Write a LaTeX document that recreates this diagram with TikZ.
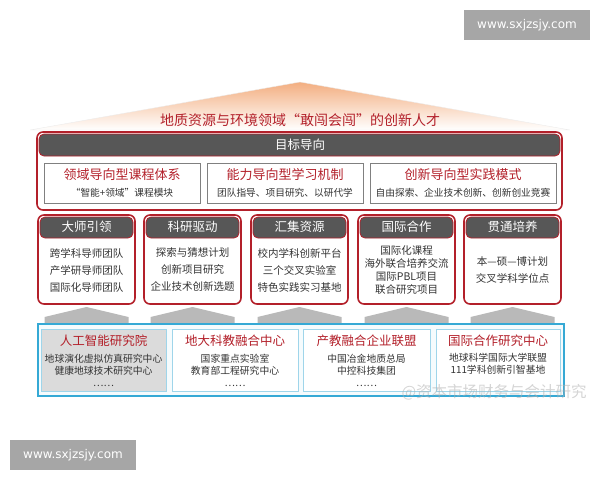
\documentclass[tikz,border=0pt]{standalone}
\usepackage{fontspec}
\setmainfont{Noto Sans CJK SC}
\newfontfamily\urlfont{DejaVu Sans}
\definecolor{deepred}{HTML}{B3202A}
\definecolor{hdrgray}{HTML}{575757}
\definecolor{bandblue}{HTML}{35A9D5}
\definecolor{paleblue}{HTML}{9FD5EA}
\definecolor{roofpeach}{HTML}{F3AE80}
\definecolor{wmgray}{HTML}{A6A6A6}
\definecolor{bodyink}{HTML}{333333}
\newcommand{\fs}[2]{\fontsize{#1}{#2}\selectfont}
\tikzset{
  redbox/.style={draw=deepred,line width=1.6pt,rounded corners=6pt,fill=white},
  hdrbar/.style={draw=deepred,line width=0.8pt,fill=hdrgray,rounded corners=5pt},
  subbox/.style={draw=gray,line width=0.8pt,fill=white},
  cellbox/.style={draw=paleblue,line width=0.8pt},
  hdrtext/.style={text=white,font=\fs{12.5}{14}},
  redtext/.style={text=deepred,font=\fs{12.5}{14}},
  bodytext/.style={align=center,text=bodyink,font=\fs{10.5}{17}},
  celltext/.style={align=center,text=bodyink,font=\fs{9.8}{12}},
  wmbox/.style={fill=wmgray},
  wmtext/.style={text=white,font=\urlfont\fs{12}{14}}
}
\begin{document}
\begin{tikzpicture}[x=1pt,y=-1pt]
\useasboundingbox (0,0) rectangle (600,480);
% watermarks
\fill[wmbox] (464,10) rectangle (590,40);
\node[wmtext] (urltop) at (527,25) {www.sxjzsjy.com};
\fill[wmbox] (10,440) rectangle (136,470);
\node[wmtext] (urlbottom) at (73,455) {www.sxjzsjy.com};
% roof
\shade[top color=roofpeach,bottom color=white,draw=gray!15] (30,130) -- (300,82) -- (570,130) -- cycle;
\node[text=deepred,font=\fs{14}{16}] (talent) at (300,120) {地质资源与环境领域“敢闯会闯”的创新人才};
% goal block
\draw[redbox] (37,132) rectangle (562,210);
\draw[hdrbar] (39,134) rectangle (560,156);
\node[hdrtext] (goal) at (300,145) {目标导向};
\draw[subbox] (44,163) rectangle (200,203);
\draw[subbox] (207,163) rectangle (363,203);
\draw[subbox] (370,163) rectangle (556,203);
\node[text=deepred,font=\fs{13}{15}] (course) at (122,175) {领域导向型课程体系};
\node[text=bodyink,font=\fs{9.7}{12}] (coursetxt) at (122,193) {“智能+领域”课程模块};
\node[text=deepred,font=\fs{13}{15}] (ability) at (285,175) {能力导向型学习机制};
\node[text=bodyink,font=\fs{9.7}{12}] (abilitytxt) at (285,193) {团队指导、项目研究、以研代学};
\node[text=deepred,font=\fs{13}{15}] (practice) at (463,175) {创新导向型实践模式};
\node[text=bodyink,font=\fs{9.7}{12}] (practicetxt) at (463,193) {自由探索、企业技术创新、创新创业竞赛};
% five pillars
\draw[redbox] (38,215) rectangle (135,304);
\draw[hdrbar] (40,217) rectangle (133,238);
\node[hdrtext] (lead) at (86.5,227) {大师引领};
\node[bodytext] (leadtxt) at (86.5,270) {跨学科导师团队\\产学研导师团队\\国际化导师团队};
\draw[redbox] (144,215) rectangle (241,304);
\draw[hdrbar] (146,217) rectangle (239,238);
\node[hdrtext] (drive) at (192.5,227) {科研驱动};
\node[bodytext] (drivetxt) at (192.5,270) {探索与猜想计划\\创新项目研究\\企业技术创新选题};
\draw[redbox] (251,215) rectangle (348,304);
\draw[hdrbar] (253,217) rectangle (346,238);
\node[hdrtext] (pool) at (299.5,227) {汇集资源};
\node[bodytext] (pooltxt) at (299.5,270) {校内学科创新平台\\三个交叉实验室\\特色实践实习基地};
\draw[redbox] (358,215) rectangle (455,304);
\draw[hdrbar] (360,217) rectangle (453,238);
\node[hdrtext] (intl) at (406.5,227) {国际合作};
\node[bodytext,font=\fs{10.5}{12.7}] (intltxt) at (406.5,270) {国际化课程\\海外联合培养交流\\国际PBL项目\\联合研究项目};
\draw[redbox] (464,215) rectangle (561,304);
\draw[hdrbar] (466,217) rectangle (559,238);
\node[hdrtext] (through) at (512.5,227) {贯通培养};
\node[bodytext] (throughtxt) at (512.5,270.5) {本—硕—博计划\\交叉学科学位点};
% chevrons
\foreach \cx in {86.5,192.5,299.5,406.5,512.5}
  \fill[gray!55] (\cx-42,326) -- (\cx-42,317) -- (\cx,307) -- (\cx+42,317) -- (\cx+42,326) -- cycle;
% platform band
\draw[draw=bandblue,line width=2pt,fill=bandblue!5] (38,324) rectangle (564,396);
\draw[cellbox,fill=gray!28] (41,329) rectangle (166,391);
\node[redtext] (ai) at (103.5,341) {人工智能研究院};
\node[celltext] (aitxt) at (103.5,370) {地球演化虚拟仿真研究中心\\健康地球技术研究中心\\……};
\draw[cellbox,fill=white] (172,329) rectangle (298,391);
\node[redtext] (cug) at (235,341) {地大科教融合中心};
\node[celltext] (cugtxt) at (235,370) {国家重点实验室\\教育部工程研究中心\\……};
\draw[cellbox,fill=white] (303,329) rectangle (430,391);
\node[redtext] (alliance) at (366.5,341) {产教融合企业联盟};
\node[celltext] (alliancetxt) at (366.5,370) {中国冶金地质总局\\中控科技集团\\……};
\draw[cellbox,fill=white] (436,329) rectangle (560,391);
\node[redtext] (global) at (498,341) {国际合作研究中心};
\node[celltext] (globaltxt) at (498,364) {地球科学国际大学联盟\\111学科创新引智基地};
\node[text=gray!60,opacity=0.55,font=\fs{15.5}{17},anchor=west] (mark) at (398,392) {@资本市场财务与会计研究};
\end{tikzpicture}
\end{document}
